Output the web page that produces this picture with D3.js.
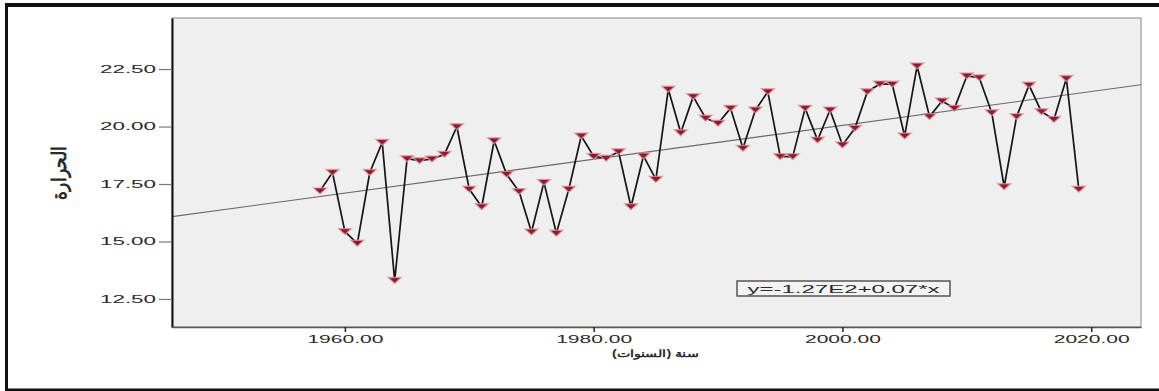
<!DOCTYPE html>
<html>
<head>
<meta charset="utf-8">
<script src="https://cdn.jsdelivr.net/npm/d3@7"></script>
<style>
  html, body { margin: 0; padding: 0; background: #ffffff; }
  svg { display: block; }
  text { font-family: "Liberation Sans", Arial, sans-serif; fill: #2a2a2a; }
</style>
</head>
<body>
<svg id="chart" width="1159" height="391"></svg>
<script>
// Annual mean values, 1958–2019
const years = d3.range(1958, 2020);
const values = [
  17.20, 18.00, 15.43, 14.92, 18.00, 19.31, 13.30, 18.60, 18.51, 18.59,
  18.79, 19.99, 17.27, 16.51, 19.38, 17.92, 17.17, 15.41, 17.57, 15.36,
  17.27, 19.59, 18.70, 18.62, 18.90, 16.51, 18.72, 17.70, 21.62, 19.73,
  21.30, 20.36, 20.14, 20.79, 19.05, 20.72, 21.51, 18.69, 18.69, 20.79,
  19.41, 20.72, 19.20, 19.92, 21.51, 21.85, 21.84, 19.59, 22.63, 20.43,
  21.11, 20.79, 22.20, 22.12, 20.60, 17.38, 20.43, 21.80, 20.64, 20.31,
  22.09, 17.27
];
const xTicks = [1960, 1980, 2000, 2020];
const yTicks = [12.5, 15, 17.5, 20, 22.5];
const yLabel = "الحرارة";
// right-to-left embedding so the title lays out as an Arabic phrase
const xLabel = "\u202Bسنة (السنوات)\u202C";
const fitLabel = "y=-1.27E2+0.07*x";

const svg = d3.select("#chart");

// Plot frame
const plot = { left: 172, right: 1141, top: 18, bottom: 327 };
const x = d3.scaleLinear().domain([1946.1, 2024]).range([plot.left, plot.right]);
const y = d3.scaleLinear().domain([11.28, 24.72]).range([plot.bottom, plot.top]);

// Outer black frame (open on the right side)
const frame = svg.append("g").attr("stroke", "#111").attr("fill", "none");
frame.append("line").attr("x1", 5).attr("x2", 1159).attr("y1", 5).attr("y2", 5).attr("stroke-width", 4);
frame.append("line").attr("x1", 6.5).attr("x2", 6.5).attr("y1", 3).attr("y2", 391).attr("stroke-width", 3);
frame.append("line").attr("x1", 5).attr("x2", 1159).attr("y1", 390).attr("y2", 390).attr("stroke-width", 3);

// Plot background
svg.append("rect")
  .attr("x", plot.left).attr("y", plot.top)
  .attr("width", plot.right - plot.left).attr("height", plot.bottom - plot.top)
  .attr("fill", "#efefef")
  .attr("stroke", "#9a9a9a").attr("stroke-width", 1.2);

svg.append("defs").append("clipPath").attr("id", "plotClip")
  .append("rect")
  .attr("x", plot.left).attr("y", plot.top)
  .attr("width", plot.right - plot.left).attr("height", plot.bottom - plot.top);

// Least-squares trend line
const n = years.length;
const mx = d3.mean(years), my = d3.mean(values);
let sxy = 0, sxx = 0;
for (let i = 0; i < n; i++) { sxy += (years[i] - mx) * (values[i] - my); sxx += (years[i] - mx) ** 2; }
const slope = sxy / sxx;
const intercept = my - slope * mx;
const [d0, d1] = x.domain();
svg.append("line")
  .attr("clip-path", "url(#plotClip)")
  .attr("x1", x(d0)).attr("y1", y(intercept + slope * d0))
  .attr("x2", x(d1)).attr("y2", y(intercept + slope * d1))
  .attr("stroke", "#6a6a6a").attr("stroke-width", 1.1);

// Axes
const yAxis = d3.axisLeft(y).tickValues(yTicks).tickSize(13).tickSizeOuter(0).tickPadding(3)
  .tickFormat(d3.format(".2f"));
const gy = svg.append("g").attr("transform", `translate(${plot.left},0)`).call(yAxis);
gy.select(".domain").attr("stroke", "#111").attr("stroke-width", 2);
gy.selectAll(".tick line").attr("stroke", "#777").attr("stroke-width", 1.2);
gy.selectAll(".tick text")
  .attr("font-size", 10).attr("fill", "#444")
  .attr("textLength", 56).attr("lengthAdjust", "spacingAndGlyphs");

const xAxis = d3.axisBottom(x).tickValues(xTicks).tickSize(5).tickSizeOuter(0).tickPadding(4)
  .tickFormat(d3.format(".2f"));
const gx = svg.append("g").attr("transform", `translate(0,${plot.bottom})`).call(xAxis);
gx.select(".domain").attr("stroke", "#555").attr("stroke-width", 1.5);
gx.selectAll(".tick line").attr("stroke", "#222").attr("stroke-width", 1.5);
gx.selectAll(".tick text")
  .attr("font-size", 10).attr("fill", "#444")
  .attr("textLength", 76).attr("lengthAdjust", "spacingAndGlyphs");

// Axis titles
svg.append("text")
  .attr("transform", "translate(66,173) scale(1.7,1) rotate(-90)")
  .attr("text-anchor", "middle")
  .attr("font-size", 12).attr("font-weight", "bold").attr("fill", "#555")
  .attr("textLength", 54).attr("lengthAdjust", "spacingAndGlyphs")
  .text(yLabel);

svg.append("text")
  .attr("x", 655).attr("y", 357)
  .attr("text-anchor", "middle")
  .attr("font-size", 10).attr("font-weight", "bold").attr("fill", "#333")
  .attr("textLength", 86).attr("lengthAdjust", "spacingAndGlyphs")
  .text(xLabel);

// Data line
const pts = years.map((yr, i) => ({ yr, v: values[i] }));
svg.append("path")
  .datum(pts)
  .attr("fill", "none")
  .attr("stroke", "#151515").attr("stroke-width", 1.7)
  .attr("stroke-linejoin", "round")
  .attr("d", d3.line().x(d => x(d.yr)).y(d => y(d.v)));

// Markers: flat downward triangles
const tri = "M-6.5,-3 L6.5,-3 L0,3 Z";
svg.append("g").selectAll("path")
  .data(pts).join("path")
  .attr("transform", d => `translate(${x(d.yr)},${y(d.v)})`)
  .attr("d", tri)
  .attr("fill", "#8e1b2c")
  .attr("stroke", "#e39aa5").attr("stroke-width", 1.4).attr("stroke-opacity", 0.7);

// Fit equation box
const box = svg.append("g");
box.append("rect")
  .attr("x", 737).attr("y", 281).attr("width", 213).attr("height", 15)
  .attr("fill", "#f3f3f3").attr("stroke", "#555").attr("stroke-width", 1.5);
box.append("text")
  .attr("x", 843.5).attr("y", 292.5)
  .attr("text-anchor", "middle")
  .attr("font-size", 10).attr("fill", "#333")
  .attr("textLength", 192).attr("lengthAdjust", "spacingAndGlyphs")
  .text(fitLabel);
</script>
</body>
</html>
